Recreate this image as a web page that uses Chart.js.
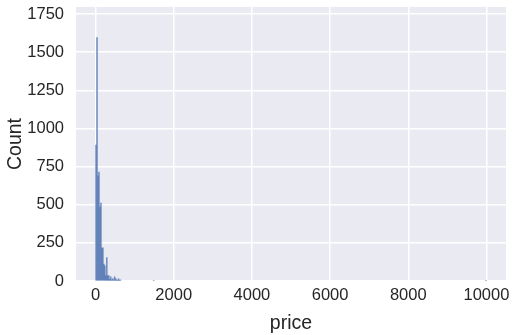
<!DOCTYPE html>
<html>
<head>
<meta charset="utf-8">
<script src="https://cdn.jsdelivr.net/npm/chart.js@4"></script>
<style>
    html, body { margin: 0; padding: 0; background: #ffffff; }
    #wrap { width: 516px; height: 335px; }
</style>
</head>
<body>
<div id="wrap"><canvas id="chart" width="516" height="335"></canvas></div>
<script>
// Histogram of price, bins 25 wide starting at 0
const binWidth = 25;
const binCount = 400;
// counts for the first bins (0, 25, 50, ...)
const lowCounts = [891, 1595, 690, 714, 485, 511, 216, 218, 111, 100,
    35, 153, 35, 35, 11, 28, 7, 15, 7, 28,
    15, 7, 4, 15, 4, 7];
// isolated bins further out
const outlierStarts = [1475, 9975];
const outlierCounts = [4, 3];
const xTicks = [0, 2000, 4000, 6000, 8000, 10000];
const yTicks = [0, 250, 500, 750, 1000, 1250, 1500, 1750];

// build the full bin table from the arrays above (empty bins stay null)
const bins = [];
for (let i = 0; i < binCount; i++) {
    bins.push({ x: i * binWidth + binWidth / 2, y: lowCounts[i] || null });
}
outlierStarts.forEach((s, k) => {
    bins[Math.round(s / binWidth)].y = outlierCounts[k];
});

// grey plot background like seaborn darkgrid
const plotBg = {
    id: 'plotBg',
    beforeDraw(chart) {
        const { ctx, chartArea: a } = chart;
        ctx.save();
        ctx.fillStyle = '#eaeaf2';
        ctx.fillRect(a.left, a.top, a.right - a.left, a.bottom - a.top);
        ctx.restore();
    }
};

const font = "'Liberation Sans', Arial, sans-serif";

new Chart(document.getElementById('chart').getContext('2d'), {
    type: 'bar',
    data: {
        datasets: [{
            label: 'Count',
            data: bins,
            backgroundColor: 'rgba(76, 114, 176, 0.75)',
            borderWidth: 0,
            barPercentage: 1,
            categoryPercentage: 1
        }]
    },
    options: {
        responsive: false,
        animation: false,
        layout: { padding: { top: 7, right: 10, left: 0, bottom: 0 } },
        plugins: { legend: { display: false }, tooltip: { enabled: false } },
        scales: {
            x: {
                type: 'linear',
                min: -500,
                max: 10500,
                offset: false,
                afterBuildTicks: (axis) => { axis.ticks = xTicks.map(v => ({ value: v })); },
                afterFit: (axis) => {
                    axis.height = 54;
                    axis.paddingLeft = 0;
                    axis.paddingRight = 0;
                },
                grid: { color: '#ffffff', lineWidth: 1.5, drawTicks: false, offset: false },
                border: { display: false },
                ticks: { color: '#262626', padding: 5, maxRotation: 0, callback: v => String(v), font: { family: font, size: 16.5 } },
                title: { display: true, text: 'price', color: '#262626', padding: { top: 2, bottom: 0 }, font: { family: font, size: 19.5 } }
            },
            y: {
                min: 0,
                max: 1796,
                afterBuildTicks: (axis) => { axis.ticks = yTicks.map(v => ({ value: v })); },
                afterFit: (axis) => {
                    axis.width = 76;
                    axis.paddingTop = 0;
                    axis.paddingBottom = 0;
                },
                grid: { color: '#ffffff', lineWidth: 1.5, drawTicks: false },
                border: { display: false },
                ticks: { color: '#262626', padding: 12, callback: v => String(v), font: { family: font, size: 16.5 } },
                title: { display: true, text: 'Count', color: '#262626', padding: { top: 4, bottom: 0 }, font: { family: font, size: 19.5 } }
            }
        }
    },
    plugins: [plotBg]
});
</script>
</body>
</html>
